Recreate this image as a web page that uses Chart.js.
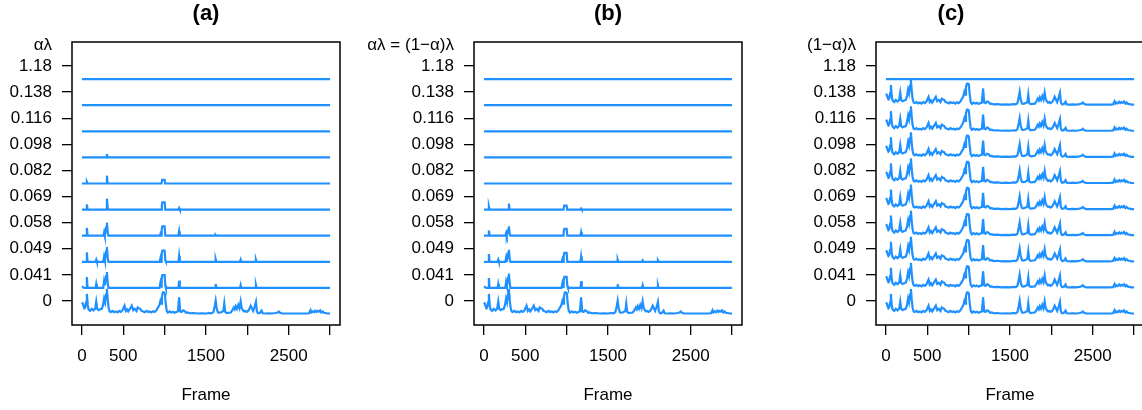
<!DOCTYPE html>
<html>
<head>
<meta charset="utf-8">
<script src="https://cdn.jsdelivr.net/npm/chart.js@4.4.1/dist/chart.umd.min.js"></script>
<style>
  body { margin: 0; width: 1142px; height: 410px; overflow: hidden; background: #fff; position: relative; }
  canvas { position: absolute; top: 0; }
</style>
</head>
<body>
<canvas id="panel-a" width="402" height="410" style="left:0px"></canvas>
<canvas id="panel-b" width="462" height="410" style="left:342px"></canvas>
<canvas id="panel-c" width="462" height="410" style="left:744px"></canvas>
<script>
// tick labels
const yLabels = ['0', '0.041', '0.049', '0.058', '0.069', '0.082', '0.098', '0.116', '0.138', '1.18'];
const xTicks = [0, 500, 1000, 1500, 2000, 2500, 3000];
const xLabels = ['0', '500', '', '1500', '', '2500', ''];

// raw trace, [frame, height] (height in band units)
const signal = [
  [0,0.44],[10,0.40],[20,0.30],[30,0.22],[40,0.25],[50,0.45],[60,0.77],[70,0.35],[80,0.18],[100,0.12],
  [120,0.20],[140,0.14],[160,0.20],[173,0.48],[185,0.20],[200,0.15],[220,0.18],[240,0.20],[255,0.35],[268,0.60],
  [280,0.45],[292,0.75],[302,0.96],[312,0.55],[322,0.25],[335,0.10],[350,0.08],[370,0.12],[390,0.07],[410,0.10],
  [430,0.06],[450,0.12],[470,0.08],[490,0.14],[515,0.32],[530,0.12],[545,0.18],[560,0.10],[580,0.20],[603,0.32],
  [620,0.15],[640,0.20],[660,0.12],[675,0.25],[690,0.22],[705,0.20],[720,0.12],[740,0.10],[760,0.07],[780,0.12],
  [800,0.08],[820,0.10],[840,0.06],[860,0.11],[880,0.08],[900,0.14],[920,0.25],[935,0.33],[948,0.50],[958,0.40],
  [968,0.70],[980,0.83],[992,0.83],[1002,0.80],[1012,0.45],[1025,0.12],[1040,0.05],[1060,0.10],[1080,0.06],[1100,0.09],
  [1120,0.05],[1140,0.08],[1160,0.10],[1175,0.64],[1188,0.10],[1205,0.08],[1222,0.14],[1240,0.12],[1260,0.05],[1280,0.06],
  [1300,0.03],[1350,0.04],[1400,0.02],[1450,0.03],[1500,0.02],[1540,0.04],[1570,0.03],[1590,0.08],[1605,0.30],[1617,0.51],
  [1630,0.20],[1645,0.06],[1665,0.05],[1690,0.08],[1710,0.12],[1721,0.40],[1732,0.08],[1750,0.04],[1775,0.05],[1800,0.06],
  [1820,0.15],[1835,0.25],[1848,0.18],[1860,0.30],[1875,0.20],[1890,0.35],[1905,0.22],[1919,0.48],[1930,0.25],[1945,0.15],
  [1960,0.10],[1975,0.12],[1990,0.08],[2010,0.12],[2025,0.20],[2040,0.32],[2055,0.22],[2070,0.12],[2085,0.25],[2104,0.47],
  [2115,0.10],[2130,0.03],[2150,0.04],[2172,0.13],[2185,0.03],[2220,0.02],[2260,0.03],[2300,0.02],[2340,0.04],[2365,0.06],
  [2380,0.10],[2395,0.05],[2420,0.02],[2460,0.02],[2500,0.02],[2550,0.02],[2600,0.02],[2650,0.02],[2700,0.02],[2745,0.03],
  [2764,0.15],[2775,0.06],[2790,0.10],[2805,0.07],[2820,0.13],[2835,0.08],[2850,0.12],[2865,0.09],[2880,0.14],[2895,0.06],
  [2910,0.10],[2925,0.05],[2945,0.04],[2970,0.02],[3000,0.02]
];

const flat = [[0,0],[3000,0]];

// panel (a), shrunk traces
const aL1 = [[0,0.06],[12,0.04],[25,0],[52,0],[60,0.42],[68,0],[165,0],[173,0.15],[181,0],[258,0],[268,0.26],[278,0.1],[292,0.45],[302,0.61],[312,0.2],[320,0],[938,0],[948,0.18],[956,0.05],[964,0.35],[972,0.49],[1000,0.49],[1008,0.1],[1016,0],[1167,0],[1175,0.28],[1183,0],[1609,0],[1617,0.15],[1625,0],[1911,0],[1919,0.11],[1927,0],[2096,0],[2104,0.11],[2112,0],[3000,0]];
const aL2 = [[0,0],[52,0],[60,0.36],[68,0],[165,0],[173,0.08],[181,0],[258,0],[268,0.2],[278,0.05],[292,0.4],[302,0.57],[312,0.15],[320,0],[940,0],[948,0.12],[956,0],[964,0.3],[972,0.43],[1000,0.43],[1008,0.05],[1016,0],[1167,0],[1175,0.23],[1183,0],[1609,0],[1617,0.1],[1625,0],[1911,0],[1919,0.08],[1927,0],[2096,0],[2104,0.08],[2112,0],[3000,0]];
const aL3 = [[0,0],[52,0],[60,0.3],[68,0],[260,0],[268,0.12],[276,0],[292,0.32],[302,0.5],[312,0.1],[320,0],[942,0],[948,0.06],[956,0],[964,0.22],[972,0.36],[1000,0.36],[1008,0],[1167,0],[1175,0.17],[1183,0],[1609,0],[1617,0.03],[1625,0],[3000,0]];
const aL4 = [[0,0],[52,0],[60,0.2],[68,0],[292,0],[302,0.42],[312,0.05],[320,0],[958,0],[966,0.15],[972,0.28],[1000,0.28],[1008,0],[1167,0],[1175,0.06],[1183,0],[3000,0]];
const aL5 = [[0,0],[52,0],[60,0.06],[68,0],[294,0],[302,0.3],[310,0],[962,0],[970,0.14],[1000,0.14],[1006,0],[3000,0]];
const aL6 = [[0,0],[294,0],[302,0.13],[310,0],[3000,0]];

// panel (b), shrunk traces
const bL1 = [[0,0.06],[12,0.04],[25,0],[52,0],[60,0.38],[68,0],[165,0],[173,0.15],[181,0],[258,0],[268,0.23],[278,0.08],[292,0.4],[302,0.55],[312,0.18],[320,0],[938,0],[948,0.16],[956,0.04],[964,0.3],[972,0.42],[1000,0.42],[1008,0.08],[1016,0],[1167,0],[1175,0.26],[1183,0],[1609,0],[1617,0.14],[1625,0],[1911,0],[1919,0.1],[1927,0],[2096,0],[2104,0.1],[2112,0],[3000,0]];
const bL2 = [[0,0],[52,0],[60,0.3],[68,0],[165,0],[173,0.08],[181,0],[260,0],[268,0.15],[276,0],[292,0.32],[302,0.46],[312,0.1],[320,0],[942,0],[948,0.08],[956,0],[964,0.22],[972,0.34],[1000,0.34],[1008,0],[1167,0],[1175,0.2],[1183,0],[1609,0],[1617,0.08],[1625,0],[1911,0],[1919,0.05],[1927,0],[2096,0],[2104,0.05],[2112,0],[3000,0]];
const bL3 = [[0,0],[52,0],[60,0.2],[68,0],[260,0],[268,0.1],[276,0],[292,0.22],[302,0.36],[312,0.05],[320,0],[958,0],[964,0.15],[972,0.26],[1000,0.26],[1008,0],[1167,0],[1175,0.13],[1183,0],[3000,0]];
const bL4 = [[0,0],[52,0],[60,0.11],[68,0],[294,0],[302,0.23],[310,0],[962,0],[970,0.15],[1000,0.15],[1006,0],[1167,0],[1175,0.04],[1183,0],[3000,0]];

const panelA = [signal, aL1, aL2, aL3, aL4, aL5, aL6, flat, flat, flat];
const panelB = [signal, bL1, bL2, bL3, bL4, flat, flat, flat, flat, flat];
const panelC = [signal, signal, signal, signal, signal, signal, signal, signal, signal, flat];

Chart.defaults.font.family = '"Liberation Sans", Arial, Helvetica, sans-serif';
Chart.defaults.font.size = 17;
Chart.defaults.color = '#000';

const panelDeco = {
  id: 'panelDeco',
  afterDraw(chart, args, opts) {
    const { ctx, chartArea: a } = chart;
    ctx.save();
    ctx.strokeStyle = '#000';
    ctx.lineWidth = 1.5;
    ctx.strokeRect(a.left, a.top, a.right - a.left, a.bottom - a.top);
    ctx.fillStyle = '#000';
    ctx.textBaseline = 'middle';
    ctx.font = 'bold 22px "Liberation Sans", Arial, sans-serif';
    ctx.textAlign = 'center';
    const tx = opts.titleX != null ? opts.titleX : (a.left + a.right) / 2;
    ctx.fillText(opts.title, tx, 14);
    ctx.font = '17px "Liberation Sans", Arial, sans-serif';
    ctx.textAlign = 'right';
    ctx.fillText(opts.ylab, a.left - 20, a.top + 3);
    ctx.restore();
  }
};

function makePanel(id, traces, title, ylab, axisWidth, titleX) {
  // each trace sits half a band below its tick
  const datasets = traces.map((pts, i) => ({
    data: pts.map(p => ({ x: p[0], y: p[1] + i - 0.5 })),
    borderColor: '#1E90FF',
    borderWidth: 2.2,
    pointRadius: 0,
    tension: 0,
    fill: false,
  }));

  return new Chart(document.getElementById(id), {
    type: 'line',
    data: { datasets },
    options: {
      responsive: false,
      animation: false,
      devicePixelRatio: 1,
      layout: { padding: { top: 42, right: 62, left: 0, bottom: 0 } },
      plugins: {
        legend: { display: false },
        tooltip: { enabled: false },
        panelDeco: { title, ylab, titleX },
      },
      scales: {
        x: {
          type: 'linear',
          min: -120,
          max: 3120,
          afterFit: s => { s.height = 85; },
          afterBuildTicks: s => { s.ticks = xTicks.map(v => ({ value: v })); },
          ticks: {
            autoSkip: false,
            maxRotation: 0,
            padding: 11,
            callback: (v, i) => xLabels[i],
          },
          grid: { drawOnChartArea: false, drawTicks: true, tickLength: 10, color: '#000', lineWidth: 1.3 },
          border: { display: false },
          title: { display: true, text: 'Frame', padding: { top: 4, bottom: 4 } },
        },
        y: {
          type: 'linear',
          min: -0.92,
          max: 9.92,
          afterFit: s => { s.width = axisWidth; },
          afterBuildTicks: s => { s.ticks = yLabels.map((l, i) => ({ value: i })); },
          ticks: {
            autoSkip: false,
            padding: 10,
            callback: v => yLabels[v],
          },
          grid: { drawOnChartArea: false, drawTicks: true, tickLength: 10, color: '#000', lineWidth: 1.3 },
          border: { display: false },
        },
      },
    },
    plugins: [panelDeco],
  });
}

makePanel('panel-a', panelA, '(a)', 'αλ', 72);
makePanel('panel-b', panelB, '(b)', 'αλ = (1−α)λ', 132);
makePanel('panel-c', panelC, '(c)', '(1−α)λ', 132, 207);
</script>
</body>
</html>
